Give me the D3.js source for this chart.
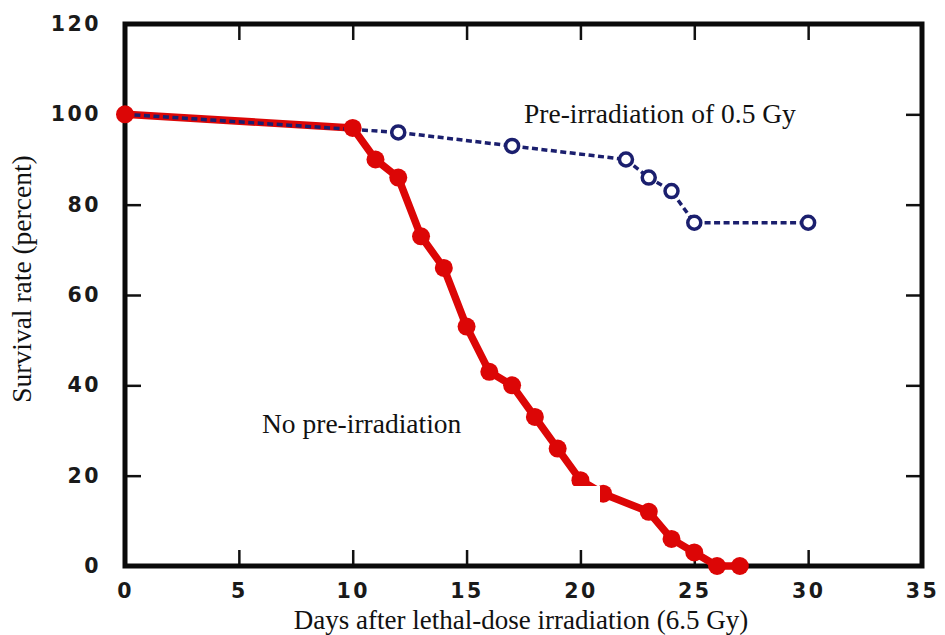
<!DOCTYPE html>
<html>
<head>
<meta charset="utf-8">
<script src="https://cdn.jsdelivr.net/npm/d3@7"></script>
<style>
  html, body { margin: 0; padding: 0; background: #ffffff; }
  svg { display: block; }
</style>
</head>
<body>
<svg id="chart" width="945" height="635"></svg>
<script>
// ---- data ----
const noPreDays   = [0, 10, 11, 12, 13, 14, 15, 16, 17, 18, 19, 20, 21, 23, 24, 25, 26, 27];
const noPreValues = [100, 97, 90, 86, 73, 66, 53, 43, 40, 33, 26, 19, 16, 12, 6, 3, 0, 0];
const preDays     = [0, 12, 17, 22, 23, 24, 25, 30];
const preValues   = [100, 96, 93, 90, 86, 83, 76, 76];
const xTicks = [0, 5, 10, 15, 20, 25, 30, 35];
const yTicks = [0, 20, 40, 60, 80, 100, 120];
const xTitle = "Days after lethal-dose irradiation (6.5 Gy)";
const yTitle = "Survival rate (percent)";
const labelPre = "Pre-irradiation of 0.5 Gy";
const labelNoPre = "No pre-irradiation";

// ---- layout ----
const svg = d3.select("#chart");
const L = 125, R = 922, T = 24, B = 566;
const x = d3.scaleLinear().domain([0, 35]).range([L, R]);
const y = d3.scaleLinear().domain([0, 120]).range([B, T]);

const tickFont = "'DejaVu Sans', 'Liberation Sans', sans-serif";
const serif = "'Liberation Serif', 'Times New Roman', serif";

// white background
svg.append("rect").attr("width", 945).attr("height", 635).attr("fill", "#ffffff");

// inner ticks on all four sides
const tickLen = 16;
const styleAxis = g => {
  g.select(".domain").remove();
  g.selectAll(".tick line").attr("stroke", "#111").attr("stroke-width", 2.5);
  g.selectAll(".tick text")
    .attr("fill", "#1a1a1a")
    .style("font-family", tickFont)
    .style("font-weight", "bold")
    .style("font-size", "20.5px")
    .style("letter-spacing", "2.5px");
};

svg.append("g").attr("transform", `translate(0,${B})`)
  .call(d3.axisBottom(x).tickValues(xTicks).tickSize(-tickLen).tickPadding(17).tickFormat(d3.format("d")))
  .call(styleAxis)
  .call(g => g.selectAll(".tick").filter(d => d === 0 || d === 35).select("line").remove());

svg.append("g").attr("transform", `translate(0,${T})`)
  .call(d3.axisTop(x).tickValues(xTicks.filter(d => d > 0 && d < 35)).tickSize(-tickLen).tickFormat(""))
  .call(styleAxis);

svg.append("g").attr("transform", `translate(${L},0)`)
  .call(d3.axisLeft(y).tickValues(yTicks).tickSize(-tickLen).tickPadding(24).tickFormat(d3.format("d")))
  .call(styleAxis)
  .call(g => g.selectAll(".tick").filter(d => d === 0 || d === 120).select("line").remove());

svg.append("g").attr("transform", `translate(${R},0)`)
  .call(d3.axisRight(y).tickValues(yTicks.filter(d => d > 0 && d < 120)).tickSize(-tickLen).tickFormat(""))
  .call(styleAxis);

// frame
svg.append("rect")
  .attr("x", L).attr("y", T).attr("width", R - L).attr("height", B - T)
  .attr("fill", "none").attr("stroke", "#0a0a0a").attr("stroke-width", 5);

// ---- series ----
const noPre = noPreDays.map((d, i) => ({ d, v: noPreValues[i] }));
const pre = preDays.map((d, i) => ({ d, v: preValues[i] }));
const line = d3.line().x(p => x(p.d)).y(p => y(p.v));

const red = "#dc0606";
const navy = "#1b1f6e";

svg.append("path").datum(noPre).attr("d", line)
  .attr("fill", "none").attr("stroke", red).attr("stroke-width", 7.5)
  .attr("stroke-linejoin", "round").attr("stroke-linecap", "round");

svg.append("path").datum(pre).attr("d", line)
  .attr("fill", "none").attr("stroke", navy).attr("stroke-width", 3.5)
  .attr("stroke-dasharray", "6,3.5");

svg.append("g").selectAll("circle").data(pre).join("circle")
  .attr("cx", p => x(p.d)).attr("cy", p => y(p.v)).attr("r", 6.5)
  .attr("fill", "#ffffff").attr("stroke", navy).attr("stroke-width", 3.5);

svg.append("g").selectAll("circle").data(noPre).join("circle")
  .attr("cx", p => x(p.d)).attr("cy", p => y(p.v)).attr("r", 9)
  .attr("fill", red);

// white patch present in the reference image
svg.append("rect").attr("x", 470).attr("y", 486).attr("width", 130).attr("height", 62).attr("fill", "#ffffff");

// ---- texts ----
svg.append("text")
  .attr("x", 524).attr("y", 123)
  .style("font-family", serif).style("font-size", "27.5px").attr("fill", "#111")
  .text(labelPre);

svg.append("text")
  .attr("x", 262).attr("y", 433)
  .style("font-family", serif).style("font-size", "27.5px").attr("fill", "#111")
  .text(labelNoPre);

svg.append("text")
  .attr("x", 521).attr("y", 629).attr("text-anchor", "middle")
  .style("font-family", serif).style("font-size", "27px").attr("fill", "#111")
  .text(xTitle);

svg.append("text")
  .attr("transform", "translate(31,279) rotate(-90)").attr("text-anchor", "middle")
  .style("font-family", serif).style("font-size", "27.5px").attr("fill", "#111")
  .text(yTitle);
</script>
</body>
</html>
